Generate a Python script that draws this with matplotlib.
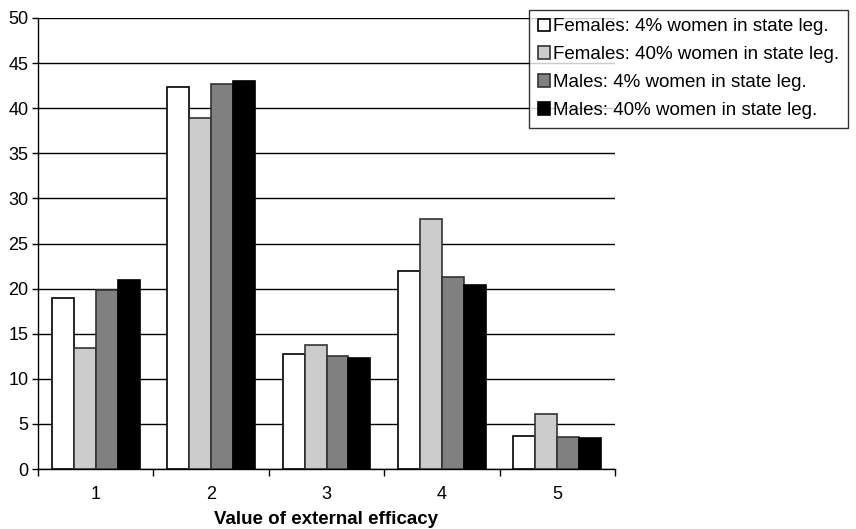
import numpy as np
import matplotlib.pyplot as plt
from matplotlib.ticker import FixedLocator

plt.rcParams['font.family'] = ['Liberation Sans', 'DejaVu Sans']

categories = ['1', '2', '3', '4', '5']
series_names = ['Females: 4% women in state leg.',
                'Females: 40% women in state leg.',
                'Males: 4% women in state leg.',
                'Males: 40% women in state leg.']
fem_4 = [19.0, 42.3, 12.7, 21.9, 3.7]
fem_40 = [13.4, 38.9, 13.8, 27.7, 6.1]
male_4 = [19.9, 42.7, 12.5, 21.3, 3.6]
male_40 = [21.0, 43.0, 12.3, 20.4, 3.4]

series = [fem_4, fem_40, male_4, male_40]
colors = ['white', '#cccccc', '#808080', 'black']
edges = ['black', '#333333', '#333333', 'black']

fig = plt.figure(figsize=(8.56, 5.29), dpi=100)
ax = fig.add_axes([38 / 856, 1 - 469 / 529, (615 - 38) / 856, (469 - 18) / 529])

x = np.arange(len(categories))
w = 0.19
for i, vals in enumerate(series):
    ax.bar(x + (i - 1.5) * w, vals, width=w, color=colors[i], edgecolor=edges[i],
           linewidth=1.2, label=series_names[i], zorder=3)

ax.set_xlim(-0.5, len(categories) - 0.5)
ax.set_ylim(0, 50)
ax.set_yticks(range(0, 51, 5))
ax.yaxis.grid(True, color='black', linewidth=1.0, zorder=0)
ax.set_axisbelow(True)

ax.set_xticks(x)
ax.set_xticklabels(categories)
ax.tick_params(axis='x', which='major', length=0, labelsize=13, pad=12)
ax.xaxis.set_minor_locator(FixedLocator(np.arange(-0.5, len(categories), 1.0)))
ax.tick_params(axis='x', which='minor', length=5, width=1)
ax.tick_params(axis='y', length=4, width=1, labelsize=13, pad=3)

for s in ['top', 'right']:
    ax.spines[s].set_visible(False)
ax.spines['left'].set_linewidth(1.0)
ax.spines['bottom'].set_linewidth(1.0)

ax.set_xlabel('Value of external efficacy', fontsize=13.5, fontweight='bold', labelpad=6)

leg = fig.legend(loc='upper right', bbox_to_anchor=(848 / 856, 1 - 10 / 529),
                 fontsize=13.5, frameon=True, fancybox=False, edgecolor='black',
                 handlelength=0.65, handleheight=0.65, handletextpad=0.2,
                 labelspacing=0.58, borderpad=0.45, borderaxespad=0)
leg.get_frame().set_linewidth(1.0)

fig.savefig('out.png', dpi=100)
